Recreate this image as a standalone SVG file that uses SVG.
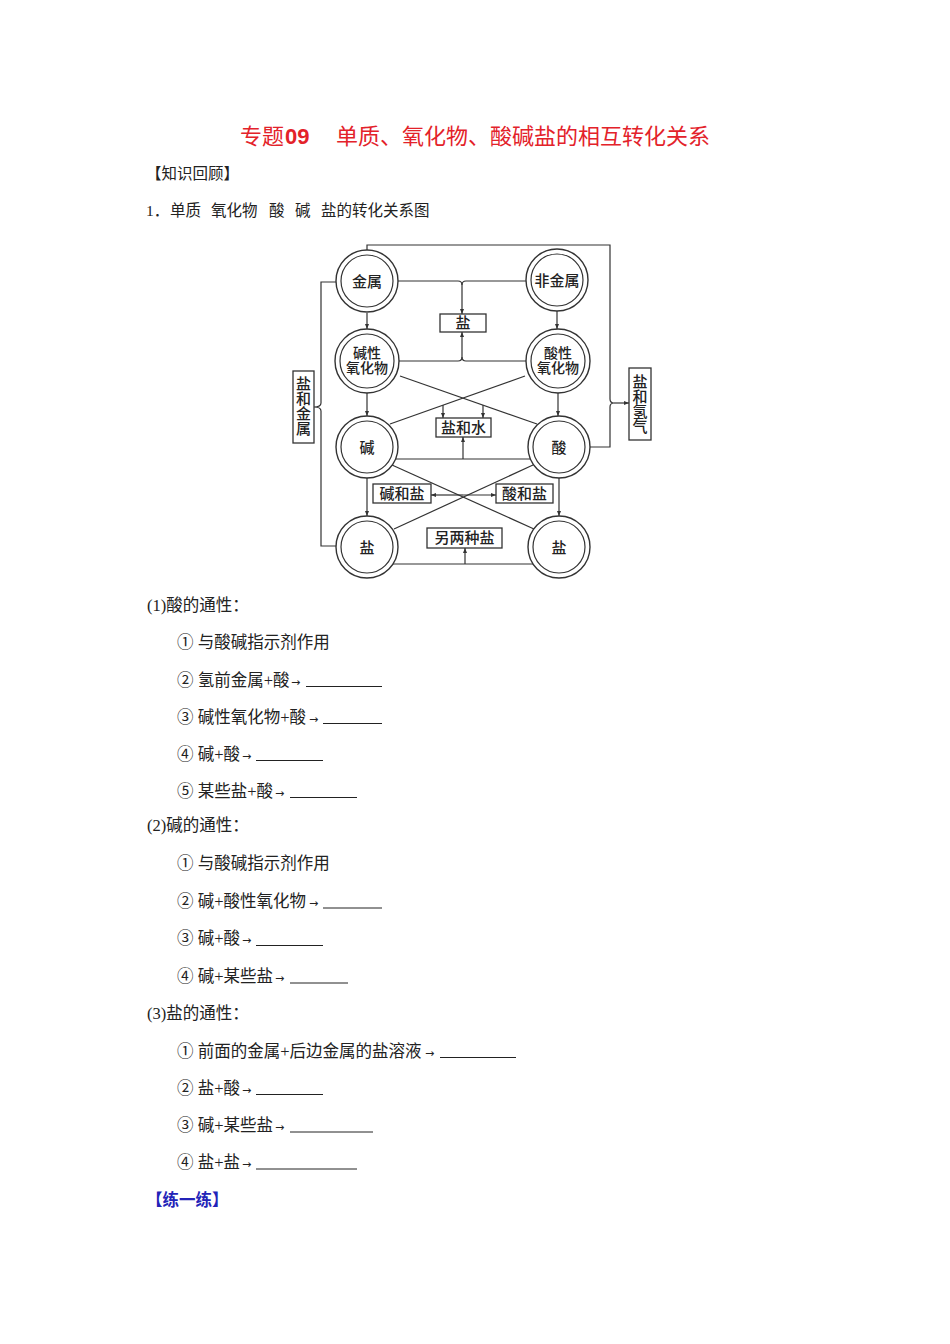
<svg xmlns="http://www.w3.org/2000/svg" width="950" height="1344" viewBox="0 0 950 1344">
<style>
  .t { font-family: "Liberation Serif", "Noto Sans CJK SC", serif; font-size: 16.5px; fill: #222; }
  .arr { font-family: "DejaVu Sans", sans-serif; font-size: 11px; fill: #222; }
  .lbl { font-family: "Liberation Serif", "Noto Sans CJK SC", serif; font-size: 15px; fill: #222; text-anchor: middle; font-weight: 500; }
  .sm { font-size: 14px; }
  .ln { stroke: #333; stroke-width: 1.2; fill: none; }
  .ul { stroke: #222; stroke-width: 1; }
  .box { fill: #fff; stroke: #333; stroke-width: 1.3; }
  .oc { fill: #fff; stroke: #333; stroke-width: 1.4; }
  .ic { fill: none; stroke: #333; stroke-width: 1.2; }
</style>
<defs>
  <marker id="ah" viewBox="0 0 10 10" refX="10" refY="5" markerWidth="5" markerHeight="5" orient="auto-start-reverse" markerUnits="userSpaceOnUse">
    <path d="M0,1 L10,5 L0,9 Z" fill="#333"/>
  </marker>
</defs>
<rect width="950" height="1344" fill="#fff"/>

<!-- Title -->
<g id="title">
  <text x="240" y="144" style="font-family:'Liberation Serif','Noto Sans CJK SC',serif;font-size:22px;fill:#e3222a">专题</text>
  <text x="285" y="144" style="font-family:'Liberation Sans',sans-serif;font-size:22px;font-weight:bold;fill:#e3222a">09</text>
  <text x="336" y="144" style="font-family:'Liberation Serif','Noto Sans CJK SC',serif;font-size:22px;fill:#e3222a">单质、氧化物、酸碱盐的相互转化关系</text>
</g>

<g id="intro">
  <text class="t" x="146" y="179" style="font-size:15.5px">【知识回顾】</text>
  <text class="t" x="146" y="216" style="font-size:15.5px">1．<tspan x="170">单质</tspan><tspan x="211">氧化物</tspan><tspan x="269">酸</tspan><tspan x="295">碱</tspan><tspan x="321">盐的转化关系图</tspan></text>
</g>

<!-- Connectors -->
<g id="connectors">
  <path class="ln" d="M367,250 V245 H610 V399 Q610,403 614,403 Q610,403 610,407 V447 H590"/>
  <line class="ln" x1="614" y1="403" x2="629" y2="403" marker-end="url(#ah)"/>
  <path class="ln" d="M336,282 H321 V403 Q321,407 314,407 Q321,407 321,411 V546 H336"/>
  <path class="ln" d="M398,281 H458 Q462,281 462,285 V314" marker-end="url(#ah)"/>
  <path class="ln" d="M526,281 H466 Q462,281 462,285"/>
  <path class="ln" d="M399,361 H458 Q462,361 462,357 V332" marker-end="url(#ah)"/>
  <path class="ln" d="M526,361 H466 Q462,361 462,357"/>
  <line class="ln" x1="367" y1="313" x2="367" y2="329" marker-end="url(#ah)"/>
  <line class="ln" x1="557" y1="311" x2="557" y2="329" marker-end="url(#ah)"/>
  <line class="ln" x1="367" y1="393" x2="367" y2="416" marker-end="url(#ah)"/>
  <line class="ln" x1="558" y1="393" x2="558" y2="416" marker-end="url(#ah)"/>
  <line class="ln" x1="367" y1="478" x2="367" y2="516" marker-end="url(#ah)"/>
  <line class="ln" x1="559" y1="478" x2="559" y2="516" marker-end="url(#ah)"/>
  <line class="ln" x1="400" y1="376" x2="537" y2="424"/>
  <line class="ln" x1="525" y1="376" x2="390" y2="424"/>
  <line class="ln" x1="443" y1="405" x2="443" y2="418" marker-end="url(#ah)"/>
  <line class="ln" x1="483" y1="405" x2="483" y2="418" marker-end="url(#ah)"/>
  <line class="ln" x1="396" y1="459" x2="531" y2="459"/>
  <line class="ln" x1="463" y1="459" x2="463" y2="437" marker-end="url(#ah)"/>
  <line class="ln" x1="392" y1="465" x2="534" y2="529"/>
  <line class="ln" x1="533" y1="465" x2="394" y2="529"/>
  <line class="ln" x1="463" y1="495" x2="431" y2="495" marker-end="url(#ah)"/>
  <line class="ln" x1="463" y1="495" x2="496" y2="495" marker-end="url(#ah)"/>
  <line class="ln" x1="393" y1="564" x2="533" y2="564"/>
  <line class="ln" x1="465" y1="564" x2="465" y2="548" marker-end="url(#ah)"/>
</g>

<!-- Nodes -->
<g id="n-metal"><circle class="oc" cx="367" cy="281" r="31"/><circle class="ic" cx="367" cy="281" r="26"/><text class="lbl" x="367" y="287">金属</text></g>
<g id="n-nonmetal"><circle class="oc" cx="557" cy="280" r="31"/><circle class="ic" cx="557" cy="280" r="26"/><text class="lbl" x="557" y="286">非金属</text></g>
<g id="n-basic-oxide"><circle class="oc" cx="367" cy="361" r="32"/><circle class="ic" cx="367" cy="361" r="27"/><text class="lbl sm" x="367" y="358">碱性</text><text class="lbl sm" x="367" y="373">氧化物</text></g>
<g id="n-acid-oxide"><circle class="oc" cx="558" cy="361" r="32"/><circle class="ic" cx="558" cy="361" r="27"/><text class="lbl sm" x="558" y="358">酸性</text><text class="lbl sm" x="558" y="373">氧化物</text></g>
<g id="n-base"><circle class="oc" cx="367" cy="447" r="31"/><circle class="ic" cx="367" cy="447" r="26"/><text class="lbl" x="367" y="453">碱</text></g>
<g id="n-acid"><circle class="oc" cx="559" cy="447" r="31"/><circle class="ic" cx="559" cy="447" r="26"/><text class="lbl" x="559" y="453">酸</text></g>
<g id="n-salt-left"><circle class="oc" cx="367" cy="547" r="31"/><circle class="ic" cx="367" cy="547" r="26"/><text class="lbl" x="367" y="553">盐</text></g>
<g id="n-salt-right"><circle class="oc" cx="559" cy="547" r="31"/><circle class="ic" cx="559" cy="547" r="26"/><text class="lbl" x="559" y="553">盐</text></g>

<g id="b-salt"><rect class="box" x="440" y="314" width="46" height="18"/><text class="lbl" x="463" y="328">盐</text></g>
<g id="b-salt-water"><rect class="box" x="436" y="418" width="55" height="19"/><text class="lbl" x="463.5" y="433">盐和水</text></g>
<g id="b-base-salt"><rect class="box" x="373" y="484" width="58" height="19"/><text class="lbl" x="402" y="499">碱和盐</text></g>
<g id="b-acid-salt"><rect class="box" x="496" y="484" width="57" height="19"/><text class="lbl" x="524.5" y="499">酸和盐</text></g>
<g id="b-two-salts"><rect class="box" x="427" y="528" width="75" height="20"/><text class="lbl" x="464.5" y="543">另两种盐</text></g>
<g id="b-salt-metal"><rect class="box" x="293" y="371" width="21" height="72"/>
  <text class="lbl" x="303.5" y="389">盐</text><text class="lbl" x="303.5" y="404">和</text><text class="lbl" x="303.5" y="419">金</text><text class="lbl" x="303.5" y="434">属</text></g>
<g id="b-salt-h2"><rect class="box" x="629" y="368" width="22" height="72"/>
  <text class="lbl" x="640" y="387">盐</text><text class="lbl" x="640" y="402">和</text><text class="lbl" x="640" y="417">氢</text><text class="lbl" x="640" y="432">气</text></g>

<!-- Section 1 -->
<g id="sec1">
  <text class="t" x="147" y="611">(1)酸的通性：</text>
  <text class="t" x="177" y="648">① 与酸碱指示剂作用</text>
  <text class="t" x="177" y="686">② 氢前金属+酸</text><text class="arr" x="291" y="686">→</text><line class="ul" x1="306" y1="686.5" x2="382" y2="686.5"/>
  <text class="t" x="177" y="723">③ 碱性氧化物+酸</text><text class="arr" x="309" y="723">→</text><line class="ul" x1="323" y1="723.5" x2="382" y2="723.5"/>
  <text class="t" x="177" y="760">④ 碱+酸</text><text class="arr" x="242" y="760">→</text><line class="ul" x1="256" y1="760.5" x2="323" y2="760.5"/>
  <text class="t" x="177" y="797">⑤ 某些盐+酸</text><text class="arr" x="275" y="797">→</text><line class="ul" x1="290" y1="797.5" x2="357" y2="797.5"/>
</g>
<!-- Section 2 -->
<g id="sec2">
  <text class="t" x="147" y="831">(2)碱的通性：</text>
  <text class="t" x="177" y="869">① 与酸碱指示剂作用</text>
  <text class="t" x="177" y="907">② 碱+酸性氧化物</text><text class="arr" x="309" y="907">→</text><line class="ul" x1="323" y1="908" x2="382" y2="908"/>
  <text class="t" x="177" y="944">③ 碱+酸</text><text class="arr" x="242" y="944">→</text><line class="ul" x1="256" y1="945.5" x2="323" y2="945.5"/>
  <text class="t" x="177" y="982">④ 碱+某些盐</text><text class="arr" x="275" y="982">→</text><line class="ul" x1="290" y1="983" x2="348" y2="983"/>
</g>
<!-- Section 3 -->
<g id="sec3">
  <text class="t" x="147" y="1019">(3)盐的通性：</text>
  <text class="t" x="177" y="1057">① 前面的金属+后边金属的盐溶液</text><text class="arr" x="425" y="1057">→</text><line class="ul" x1="440" y1="1057.5" x2="516" y2="1057.5"/>
  <text class="t" x="177" y="1094">② 盐+酸</text><text class="arr" x="242" y="1094">→</text><line class="ul" x1="256" y1="1094.5" x2="323" y2="1094.5"/>
  <text class="t" x="177" y="1131">③ 碱+某些盐</text><text class="arr" x="275" y="1131">→</text><line class="ul" x1="290" y1="1132" x2="373" y2="1132"/>
  <text class="t" x="177" y="1168">④ 盐+盐</text><text class="arr" x="242" y="1168">→</text><line class="ul" x1="256" y1="1169" x2="357" y2="1169"/>
  <text class="t" x="146" y="1206" style="fill:#2323b8;font-weight:bold">【练一练】</text>
</g>
</svg>
